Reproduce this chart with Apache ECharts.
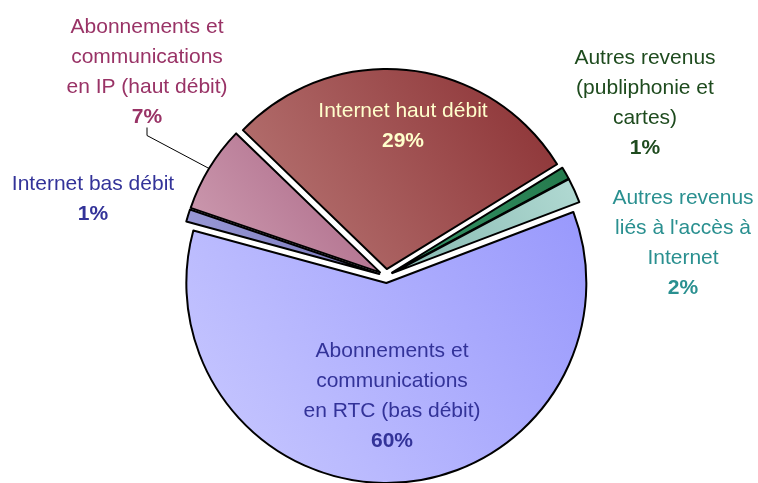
<!DOCTYPE html>
<html>
<head>
<meta charset="utf-8">
<script src="https://cdn.jsdelivr.net/npm/echarts@6/dist/echarts.min.js"></script>
<style>
  html, body { margin: 0; padding: 0; background: #fff; }
  #chart { width: 758px; height: 483px; }
</style>
</head>
<body>
<div id="chart"></div>
<script>
var names = [
  'Internet haut débit',
  'Autres revenus\n(publiphonie et\ncartes)',
  "Autres revenus\nliés à l'accès à\nInternet",
  'Abonnements et\ncommunications\nen RTC (bas débit)',
  'Internet bas débit',
  'Abonnements et\ncommunications\nen IP (haut débit)'
];
var values = [29, 1, 2, 60, 1, 7];

// fill gradients (lower-left -> upper-right) and label colours
var fills = [
  ['#ba7a78', '#8a2f32'],
  ['#35956a', '#257a4c'],
  ['#84b8b0', '#b2dad3'],
  ['#cacaff', '#9898fc'],
  ['#9c9cd8', '#7474b8'],
  ['#d0a0b4', '#a86282']
];
var textColors = ['#ffffcc', '#1e4b1e', '#2a9090', '#333399', '#333399', '#993366'];
var labelPos = [[403, 126], [645, 103], [683, 243], [392, 396], [93, 199], [147, 72]];

var chart = echarts.init(document.getElementById('chart'));

// slices, all pulled out a little
var slices = values.map(function(v, i) {
  return {
    name: names[i],
    value: v,
    selected: true,
    itemStyle: {
      color: new echarts.graphic.LinearGradient(0, 1, 1, 0, [
        { offset: 0, color: fills[i][0] },
        { offset: 1, color: fills[i][1] }
      ])
    }
  };
});

// same data again, invisible, only carrying the labels
var labels = values.map(function(v, i) {
  var lines = names[i].split('\n').map(function(l) { return '{n|' + l + '}'; });
  return {
    name: names[i],
    value: v,
    label: {
      formatter: lines.join('\n') + '\n{p|' + v + '%}',
      rich: {
        n: { color: textColors[i], fontSize: 21, lineHeight: 30, fontFamily: 'Liberation Sans' },
        p: { color: textColors[i], fontSize: 21, lineHeight: 30, fontWeight: 'bold', fontFamily: 'Liberation Sans' }
      }
    },
    labelLine: { show: i === 5, length: 12, length2: 8, lineStyle: { color: '#000', width: 1 } }
  };
});

chart.setOption({
  animation: false,
  backgroundColor: '#fff',
  series: [{
    type: 'pie',
    center: [386, 276],
    radius: 200,
    startAngle: 136,
    clockwise: true,
    selectedMode: 'multiple',
    selectedOffset: 7,
    itemStyle: { borderColor: '#000', borderWidth: 2 },
    select: { itemStyle: { borderColor: '#000', borderWidth: 2 } },
    emphasis: { disabled: true },
    label: { show: false },
    labelLine: { show: false },
    data: slices
  }, {
    type: 'pie',
    silent: true,
    center: [386, 276],
    radius: 200,
    startAngle: 136,
    clockwise: true,
    avoidLabelOverlap: false,
    itemStyle: { color: 'rgba(0,0,0,0)', borderWidth: 0 },
    emphasis: { disabled: true },
    label: { show: true, position: 'outside' },
    labelLayout: function(p) {
      var pos = labelPos[p.dataIndex];
      return { x: pos[0], y: pos[1], align: 'center', verticalAlign: 'middle' };
    },
    data: labels
  }]
});
</script>
</body>
</html>
